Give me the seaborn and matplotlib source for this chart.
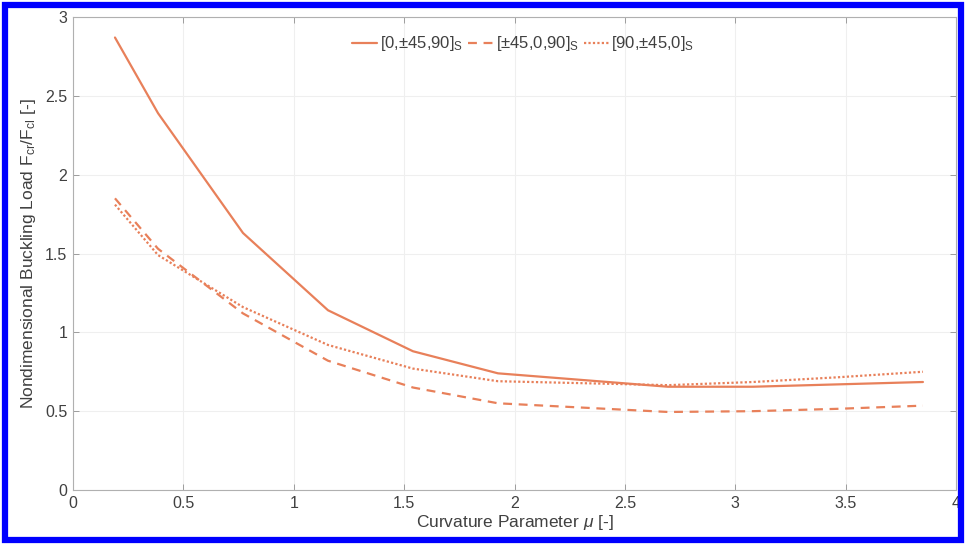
import numpy as np
import pandas as pd
import matplotlib
matplotlib.use("Agg")
import matplotlib.pyplot as plt
import seaborn as sns
from matplotlib.patches import Rectangle

# Curvature parameter values
mu = [0.19, 0.385, 0.77, 1.155, 1.54, 1.925, 2.695, 3.08, 3.465, 3.85]

# Nondimensional buckling load for each layup
load_0_45_90 = [2.87, 2.39, 1.63, 1.14, 0.88, 0.74, 0.655, 0.655, 0.67, 0.685]
load_45_0_90 = [1.85, 1.53, 1.12, 0.82, 0.65, 0.55, 0.495, 0.50, 0.515, 0.535]
load_90_45_0 = [1.81, 1.49, 1.16, 0.92, 0.77, 0.69, 0.665, 0.685, 0.715, 0.75]

layups = [r"[0,$\pm$45,90]$_\mathrm{S}$",
          r"[$\pm$45,0,90]$_\mathrm{S}$",
          r"[90,$\pm$45,0]$_\mathrm{S}$"]

x_ticks = [0, 0.5, 1, 1.5, 2, 2.5, 3, 3.5, 4]
x_tick_labels = ["0", "0.5", "1", "1.5", "2", "2.5", "3", "3.5", "4"]
y_ticks = [0, 0.5, 1, 1.5, 2, 2.5, 3]
y_tick_labels = ["0", "0.5", "1", "1.5", "2", "2.5", "3"]

df = pd.DataFrame({
    "mu": mu * 3,
    "load": load_0_45_90 + load_45_0_90 + load_90_45_0,
    "layup": [layups[0]] * len(mu) + [layups[1]] * len(mu) + [layups[2]] * len(mu),
})

sns.set_theme(style="whitegrid")
plt.rcParams["font.family"] = ["Liberation Sans", "DejaVu Sans"]
plt.rcParams["mathtext.fontset"] = "custom"
plt.rcParams["mathtext.rm"] = "Liberation Sans"
plt.rcParams["mathtext.it"] = "Liberation Sans:italic"

line_color = "#E8805A"
text_color = "#404040"

fig = plt.figure(figsize=(9.66, 5.45), dpi=100)
ax = fig.add_axes([0.0756, 0.1009, 0.9141, 0.8679])

sns.lineplot(data=df, x="mu", y="load", hue="layup", style="layup",
             palette=[line_color] * 3,
             dashes={layups[0]: "", layups[1]: (4, 3), layups[2]: (1, 1)},
             linewidth=1.6, ax=ax, legend=True)

ax.set_xlim(0, 4)
ax.set_ylim(0, 3)
ax.set_xticks(x_ticks)
ax.set_xticklabels(x_tick_labels)
ax.set_yticks(y_ticks)
ax.set_yticklabels(y_tick_labels)

ax.grid(True, color="#efefef", linewidth=0.8)
for side in ["left", "bottom", "top", "right"]:
    ax.spines[side].set_visible(True)
    ax.spines[side].set_color("#b0b0b0")
    ax.spines[side].set_linewidth(0.8)
ax.tick_params(axis="both", direction="in", length=4, width=0.6,
               color="#909090", labelsize=11.5, labelcolor=text_color,
               top=True, right=True, bottom=True, left=True, pad=4)

ax.set_xlabel(r"Curvature Parameter $\mathit{\mu}$ [-]", fontsize=12.5,
              color=text_color, labelpad=2)
ax.set_ylabel(r"Nondimensional Buckling Load F$_\mathrm{cr}$/F$_\mathrm{cl}$ [-]",
              fontsize=12.5, color=text_color, labelpad=5)

handles, labels = ax.get_legend_handles_labels()
leg = ax.legend(handles, labels, loc="upper center", bbox_to_anchor=(0.51, 0.995),
                ncol=3, frameon=False, fontsize=12, handlelength=1.5,
                handletextpad=0.15, columnspacing=0.3, labelcolor=text_color)

# Blue frame around the whole figure
fig.patches.append(Rectangle((0.0055, 0.0085), 0.989, 0.983, transform=fig.transFigure,
                             fill=False, edgecolor="#0000ff", linewidth=4.5))

fig.savefig("out.png", dpi=100)
